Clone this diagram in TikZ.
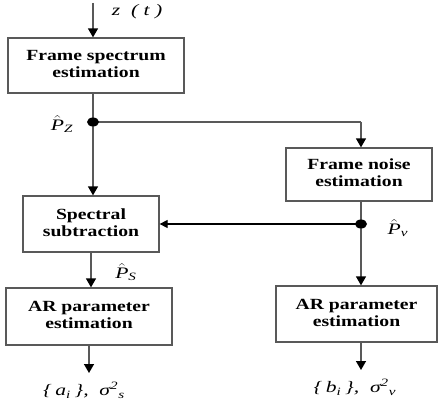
\documentclass[tikz,border=0pt]{standalone}
\usepackage{fontspec}
\usepackage{graphicx}
\setmainfont{Liberation Serif}
\newfontfamily\boxfont{Liberation Serif Bold}
\newfontfamily\labfont{Liberation Serif Italic}
\usetikzlibrary{arrows.meta}
\newcommand\twolines[2]{\scalebox{1.27}[1]{\begin{tabular}{@{}c@{}}#1\\[-1pt]#2\end{tabular}}}
\newcommand\stretchlab[1]{\scalebox{1.35}[1]{#1}}
\newcommand\Phat{$\hat{\mbox{\labfont P}}$}
\begin{document}
\begin{tikzpicture}[x=1pt,y=-1pt,
  blk/.style={draw=black!65, line width=1.3pt, fill=white, align=center, inner sep=0pt,
    font=\boxfont\fontsize{15.5}{18}\selectfont},
  ln/.style={draw=black!65, line width=1.4pt},
  arr/.style={ln, -{Triangle[length=9pt,width=10pt,black]}},
  darr/.style={draw=black, line width=1.2pt, -{Triangle[length=8pt,width=8pt,black]}},
  lab/.style={font=\labfont\fontsize{16}{19}\selectfont, inner sep=0pt},
  jdot/.style={fill=black}
]
\useasboundingbox (0,0) rectangle (439,403);
\fill[white] (0,0) rectangle (439,403);

% blocks
\node[blk, minimum width=176, minimum height=55] (fs) at (96,65.5) {\twolines{Frame spectrum}{estimation}};
\node[blk, minimum width=146, minimum height=53] (fn) at (359,174.5) {\twolines{Frame noise}{estimation}};
\node[blk, minimum width=136, minimum height=56] (ss) at (91,224) {\twolines{Spectral}{subtraction}};
\node[blk, minimum width=166, minimum height=57] (arl) at (89,316.5) {\twolines{AR parameter}{estimation}};
\node[blk, minimum width=161, minimum height=56] (arr) at (356.5,314) {\twolines{AR parameter}{estimation}};

% coordinates
\coordinate (in) at (93,3);
\coordinate (pz) at (93,122);
\coordinate (cr) at (361,122);
\coordinate (pv) at (361,224);
\coordinate (outl) at (89,373);
\coordinate (outr) at (361,370);

% connectors
\draw[arr] (in) -- (in |- fs.north);
\draw[ln] (pz |- fs.south) -- (pz);
\draw[arr] (pz) -- (pz |- ss.north);
\draw[ln] (pz) -- (cr);
\draw[arr] (cr) -- (cr |- fn.north);
\draw[ln] (cr |- fn.south) -- (pv);
\draw[arr] (pv) -- (pv |- arr.north);
\draw[darr] (pv) -- (ss.east);
\draw[arr] (ss.south) -- (ss.south |- arl.north);
\draw[arr] (arl.south) -- (outl);
\draw[arr] (outr |- arr.south) -- (outr);

% junction dots
\fill[jdot] (pz) ellipse [x radius=6, y radius=4.5];
\fill[jdot] (pv) ellipse [x radius=6, y radius=4.5];

% labels
\node[lab] (lz) at (137,12) {\stretchlab{z\enspace( t )}};
\node[lab] (lpz) at (62,124) {\stretchlab{\Phat\textsubscript{Z}}};
\node[lab] (lpv) at (398,228) {\stretchlab{\Phat\textsubscript{ν}}};
\node[lab] (lps) at (126,272) {\stretchlab{\Phat\textsubscript{S}}};
\node[lab] (la) at (84,390) {\stretchlab{\{\,a\textsubscript{i}\,\},\enspace σ\textsuperscript{2}\textsubscript{s}}};
\node[lab] (lb) at (355,387) {\stretchlab{\{\,b\textsubscript{i}\,\},\enspace σ\textsuperscript{2}\textsubscript{ν}}};
\end{tikzpicture}
\end{document}
